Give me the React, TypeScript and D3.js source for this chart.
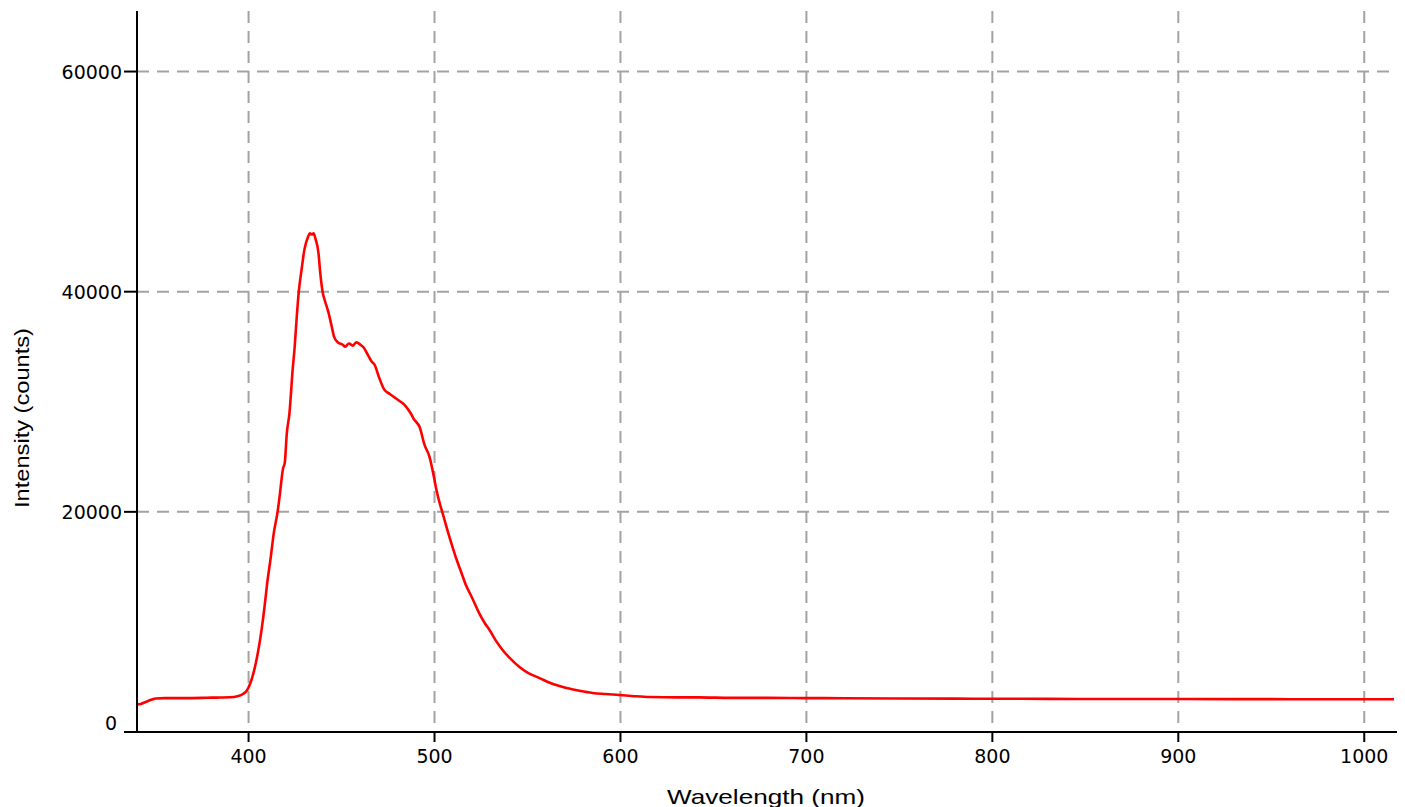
import React from "react";
import * as d3 from "d3";

const wavelength = [
  340, 342, 345, 348, 350, 355, 365, 375, 380, 385, 390, 394, 397, 399, 401, 403, 405, 407, 408.6, 410,
  411.8, 413.5, 415.6, 416.7, 418.5, 419.5, 420.5, 422, 423.7, 424.8, 425.8, 427, 428.5, 430, 432, 433,
  434, 435, 436, 437.6, 438.5, 439.8, 441, 443, 444.5, 446, 448, 450.5, 452, 454, 456, 458, 460, 462,
  464, 466, 468, 470, 473, 476, 478.5, 481, 484, 487, 489, 492, 494.6, 497.3, 500, 501, 504.3, 507,
  509.7, 512, 514.5, 517, 520, 524, 527, 529.6, 533, 536.6, 540, 545.7, 550, 556.5, 563, 571, 578, 585,
  592, 599.5, 608, 616, 630, 642, 660, 680, 700, 720, 750, 780, 800, 830, 860, 900, 930, 960, 990, 1016,
];

const intensity = [
  2500, 2550, 2750, 2950, 3050, 3080, 3080, 3100, 3120, 3130, 3150, 3250, 3450, 3750, 4450, 5600, 7200, 9300, 11400, 13500,
  15700, 18000, 20000, 21400, 23900, 24500, 27000, 29000, 32900, 35000, 37450, 40000, 42000, 43800, 45000, 45300,
  45200, 45300, 44800, 43500, 41800, 40000, 39200, 38100, 37000, 35900, 35400, 35200, 35000, 35300, 35100, 35400, 35200, 34900,
  34300, 33700, 33300, 32300, 31100, 30700, 30400, 30100, 29700, 29000, 28400, 27700, 26100, 25000, 22900, 22000, 19900, 18300,
  16800, 15600, 14450, 13300, 12270, 10800, 9900, 9270, 8300, 7450, 6800, 5900, 5400, 4900, 4400, 4000, 3750, 3550,
  3450, 3360, 3250, 3180, 3150, 3150, 3100, 3100, 3080, 3070, 3050, 3030, 3020, 3010, 3000, 3000, 2990, 2980, 2980, 2970,
];

const xTicks = [400, 500, 600, 700, 800, 900, 1000];
const yTicks = [0, 20000, 40000, 60000];
const xTitle = "Wavelength (nm)";
const yTitle = "Intensity (counts)";

export default function App() {
  const W = 1405;
  const H = 807;
  const left = 137;
  const right = 1394;
  const top = 11;
  const bottom = 732;

  const x = d3.scaleLinear().domain([340, 1016]).range([left, right]);
  const y = d3.scaleLinear().domain([0, 65500]).range([bottom, top]);

  const data = wavelength.map((w, i) => [w, intensity[i]] as [number, number]);
  const line = d3
    .line<[number, number]>()
    .x((d) => x(d[0]))
    .y((d) => y(d[1]))
    .curve(d3.curveMonotoneX);

  const gridColor = "#a3a3a3";
  const tickFont = "'DejaVu Sans', sans-serif";

  return (
    <svg
      width={W}
      height={H}
      style={{ position: "absolute", left: 0, top: 0, background: "#fff" }}
    >
      {/* grid */}
      {xTicks.map((t) => (
        <line
          key={"gx" + t}
          x1={x(t)}
          x2={x(t)}
          y1={top}
          y2={bottom}
          stroke={gridColor}
          strokeWidth={2}
          strokeDasharray="12,8"
        />
      ))}
      {yTicks
        .filter((t) => t > 0)
        .map((t) => (
          <line
            key={"gy" + t}
            x1={left}
            x2={1397}
            y1={y(t)}
            y2={y(t)}
            stroke={gridColor}
            strokeWidth={2}
            strokeDasharray="12,8"
          />
        ))}

      {/* data */}
      <path d={line(data) || ""} fill="none" stroke="#ff0000" strokeWidth={2.6} strokeLinejoin="round" />

      {/* axes */}
      <line x1={left} x2={left} y1={top} y2={bottom} stroke="#000" strokeWidth={2} />
      <line x1={124} x2={1397} y1={bottom} y2={bottom} stroke="#000" strokeWidth={2} />
      {yTicks.map((t) => (
        <line key={"ty" + t} x1={124} x2={left} y1={y(t)} y2={y(t)} stroke="#000" strokeWidth={2} />
      ))}
      {xTicks.map((t) => (
        <line key={"tx" + t} x1={x(t)} x2={x(t)} y1={bottom} y2={bottom + 10} stroke="#000" strokeWidth={2} />
      ))}

      {/* tick labels */}
      {yTicks.map((t) => (
        <text
          key={"ly" + t}
          x={t === 0 ? 117 : 122}
          y={t === 0 ? y(t) - 9 : y(t)}
          textAnchor="end"
          dominantBaseline="central"
          fontFamily={tickFont}
          fontSize={19}
          fill="#000"
        >
          {t}
        </text>
      ))}
      {xTicks.map((t) => (
        <text
          key={"lx" + t}
          x={x(t)}
          y={763}
          textAnchor="middle"
          fontFamily={tickFont}
          fontSize={19}
          fill="#000"
        >
          {t}
        </text>
      ))}

      {/* titles */}
      <text
        x={766}
        y={804}
        textAnchor="middle"
        fontFamily="'Liberation Sans', Arial, sans-serif"
        fontSize={21}
        textLength={198}
        lengthAdjust="spacingAndGlyphs"
        fill="#000"
      >
        {xTitle}
      </text>
      <text
        transform="translate(29,418) rotate(-90)"
        textAnchor="middle"
        fontFamily="'Liberation Sans', Arial, sans-serif"
        fontSize={20}
        textLength={180}
        lengthAdjust="spacingAndGlyphs"
        fill="#000"
      >
        {yTitle}
      </text>
    </svg>
  );
}
